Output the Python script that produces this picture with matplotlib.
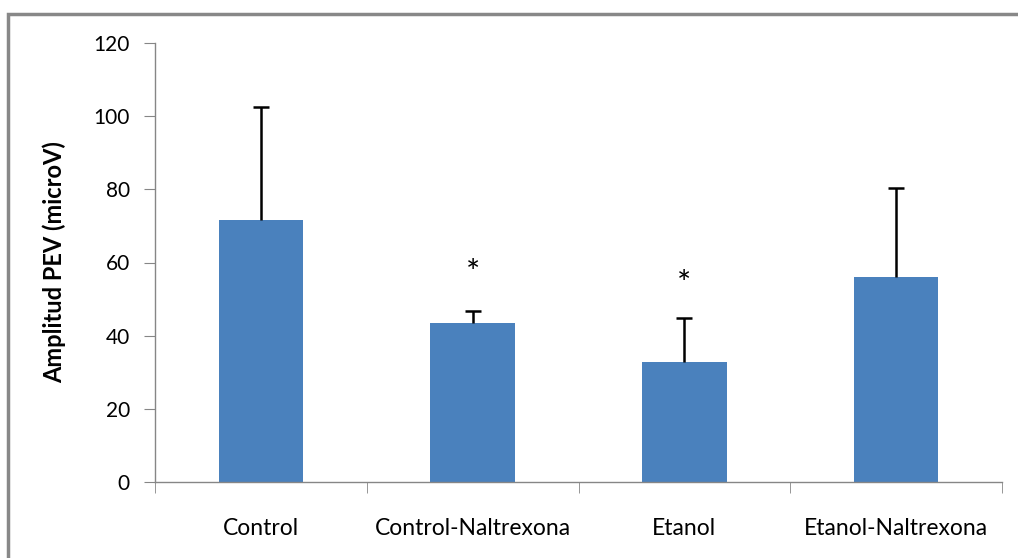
import matplotlib.pyplot as plt
from matplotlib.patches import Rectangle

categories = ["Control", "Control-Naltrexona", "Etanol", "Etanol-Naltrexona"]
means = [71.6, 43.4, 32.7, 56.0]
errors = [30.9, 3.4, 12.0, 24.4]
marks = ["", "*", "*", ""]
mark_y = [0, 56.9, 53.9, 0]

plt.rcParams['font.family'] = ['Lato', 'DejaVu Sans']

fig = plt.figure(figsize=(10.18, 5.58), dpi=100)
# axes box in pixels: x 155..1002, y 43..482
ax = fig.add_axes([155 / 1018, 1 - 482 / 558, 847 / 1018, 439 / 558])

x = list(range(len(categories)))
tops = [m + e for m, e in zip(means, errors)]
ax.bar(x, means, width=0.40, color='#4a81bd', zorder=2)
# upper error bars only, cap on top
ax.vlines(x, means, tops, color='black', linewidth=1.8, zorder=3)
ax.plot(x, tops, linestyle='none', marker='_', markersize=12,
        markeredgewidth=1.8, color='black', zorder=3)
for xi, m, my in zip(x, marks, mark_y):
    if m:
        ax.text(xi, my, m, ha='center', va='center', fontsize=24)

ax.set_xlim(-0.5, len(categories) - 0.5)
ax.set_ylim(0, 120)
ax.set_yticks(range(0, 121, 20))
ax.set_xticks(x)
ax.set_xticklabels(categories, fontsize=16.5)
ax.set_xticks([i - 0.5 for i in range(len(categories) + 1)], minor=True)
ax.tick_params(axis='x', which='major', length=0, pad=26)
ax.tick_params(axis='x', which='minor', length=8, color='#868686', direction='out')
ax.tick_params(axis='y', length=8, color='#868686', labelsize=15, pad=10)
ax.set_ylabel("Amplitud PEV (microV)", fontsize=17, fontweight='bold', labelpad=20)

for s in ['top', 'right']:
    ax.spines[s].set_visible(False)
for s in ['left', 'bottom']:
    ax.spines[s].set_color('#868686')
    ax.spines[s].set_linewidth(1)

fig.patches.append(Rectangle((8 / 1018, -0.1), 1.2, 1 - 14 / 558 + 0.1,
                             transform=fig.transFigure, fill=False,
                             edgecolor='#888888', linewidth=2.5))

fig.savefig("out.png", dpi=100)
